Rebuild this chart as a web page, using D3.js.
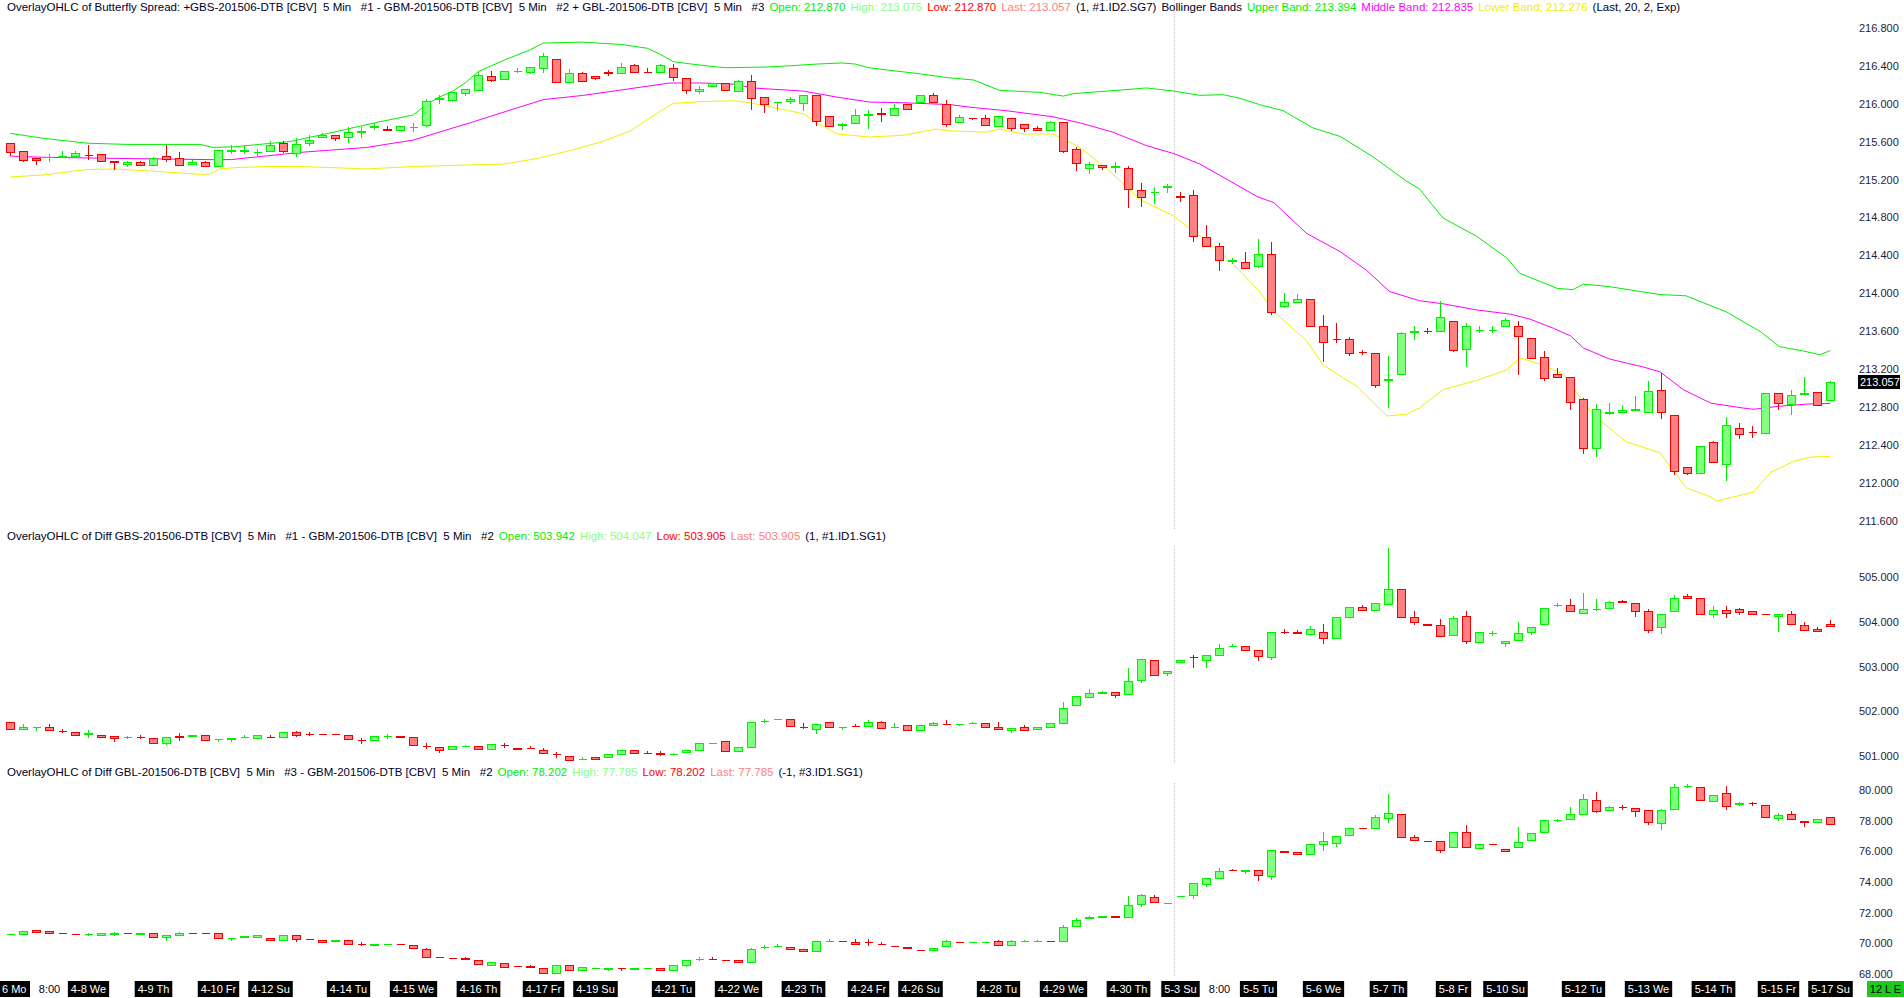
<!DOCTYPE html>
<html><head><meta charset="utf-8">
<script src="https://cdn.jsdelivr.net/npm/d3@7"></script>
<style>
html,body{margin:0;padding:0;background:#fff;overflow:hidden}
text{font-family:"Liberation Sans",Arial,sans-serif;font-size:11px;white-space:pre}
</style>
</head><body>
<svg id="chart" width="1904" height="998"></svg>
<script>
// ---------- DATA ----------
// [open, high, low, close] per bar
const spreadOHLC = [
[215.58,215.58,215.46,215.49],[215.50,215.50,215.39,215.41],[215.43,215.43,215.36,215.41],[215.435,215.47,215.39,215.44],
[215.44,215.50,215.44,215.45],[215.45,215.50,215.45,215.48],[215.46,215.56,215.42,215.455],[215.47,215.47,215.40,215.40],
[215.40,215.40,215.31,215.38],[215.36,215.39,215.34,215.38],[215.38,215.39,215.35,215.35],[215.35,215.44,215.35,215.43],
[215.45,215.56,215.40,215.42],[215.43,215.49,215.35,215.35],[215.36,215.41,215.36,215.38],[215.38,215.39,215.34,215.34],
[215.34,215.51,215.34,215.51],[215.50,215.56,215.48,215.51],[215.50,215.56,215.48,215.51],[215.49,215.52,215.46,215.495],
[215.50,215.61,215.50,215.56],[215.59,215.61,215.49,215.50],[215.48,215.64,215.45,215.57],[215.58,215.67,215.56,215.62],
[215.65,215.69,215.65,215.67],[215.67,215.67,215.62,215.64],[215.65,215.75,215.60,215.70],[215.70,215.75,215.65,215.71],
[215.75,215.80,215.73,215.76],[215.73,215.76,215.72,215.725],[215.72,215.76,215.72,215.76],[215.75,215.80,215.71,215.755],
[215.78,216.05,215.76,216.03],[216.05,216.09,216.01,216.06],[216.04,216.12,216.03,216.12],[216.11,216.16,216.09,216.16],
[216.14,216.33,216.14,216.30],[216.29,216.35,216.24,216.25],[216.26,216.35,216.26,216.35],[216.34,216.38,216.33,216.345],
[216.33,216.39,216.32,216.386],[216.38,216.53,216.33,216.50],[216.47,216.47,216.23,216.23],[216.23,216.37,216.23,216.32],
[216.32,216.33,216.24,216.24],[216.29,216.29,216.26,216.27],[216.33,216.36,216.30,216.325],[216.32,216.43,216.32,216.39],
[216.41,216.42,216.33,216.33],[216.335,216.38,216.33,216.33],[216.33,216.42,216.33,216.41],[216.38,216.42,216.25,216.28],
[216.27,216.27,216.11,216.14],[216.13,216.185,216.11,216.16],[216.19,216.22,216.19,216.22],[216.22,216.22,216.14,216.14],
[216.13,216.25,216.13,216.24],[216.24,216.30,215.94,216.06],[216.075,216.075,215.91,216.0],[216.02,216.02,215.93,216.02],
[216.025,216.075,216.01,216.05],[216.01,216.095,215.93,216.095],[216.095,216.095,215.78,215.82],[215.875,215.875,215.76,215.76],
[215.77,215.80,215.73,215.79],[215.80,215.94,215.80,215.88],[215.885,215.93,215.745,215.89],[215.90,215.95,215.82,215.895],
[215.88,216.0,215.88,215.95],[216.0,216.0,215.94,215.94],[216.02,216.095,216.02,216.095],[216.09,216.11,216.02,216.02],
[216.0,216.04,215.76,215.79],[215.81,215.88,215.81,215.86],[215.85,215.85,215.84,215.845],[215.85,215.88,215.78,215.78],
[215.765,215.875,215.765,215.875],[215.85,215.85,215.72,215.74],[215.79,215.79,215.71,215.745],[215.745,215.76,215.726,215.726],
[215.72,215.816,215.72,215.81],[215.81,215.81,215.49,215.50],[215.525,215.545,215.30,215.376],[215.324,215.38,215.266,215.363],
[215.357,215.357,215.31,215.33],[215.335,215.38,215.28,215.34],[215.324,215.344,214.91,215.098],[215.085,215.16,214.917,215.014],
[215.065,215.124,214.956,215.07],[215.12,215.15,215.065,215.126],[215.024,215.066,214.975,215.02],[215.04,215.091,214.554,214.606],
[214.593,214.722,214.502,214.502],[214.502,214.528,214.244,214.354],[214.34,214.37,214.315,214.345],[214.334,214.43,214.27,214.27],
[214.282,214.574,214.28,214.412],[214.412,214.541,213.778,213.803],[213.862,213.998,213.849,213.907],[213.907,213.99,213.907,213.94],
[213.94,213.94,213.655,213.655],[213.655,213.771,213.286,213.486],[213.52,213.68,213.48,213.515],[213.512,213.538,213.35,213.37],
[213.378,213.40,213.357,213.376],[213.37,213.37,213.007,213.027],[213.085,213.337,212.794,213.09],[213.143,213.59,213.143,213.583],
[213.595,213.655,213.519,213.60],[213.603,213.63,213.578,213.60],[213.596,213.92,213.596,213.752],[213.706,213.706,213.39,213.402],
[213.415,213.68,213.227,213.648],[213.612,213.648,213.59,213.616],[213.61,213.648,213.59,213.615],[213.655,213.74,213.655,213.72],
[213.655,213.706,213.15,213.551],[213.525,213.525,213.312,213.312],[213.331,213.39,213.085,213.104],[213.15,213.215,213.11,213.11],
[213.111,213.111,212.781,212.846],[212.885,212.89,212.315,212.367],[212.367,212.833,212.276,212.781],[212.74,212.84,212.72,212.745],
[212.742,212.82,212.742,212.768],[212.77,212.91,212.77,212.775],[212.742,213.072,212.742,212.962],[212.981,213.156,212.677,212.742],
[212.716,212.716,212.095,212.127],[212.16,212.16,212.09,212.10],[212.10,212.386,212.10,212.386],[212.431,212.444,212.218,212.218],
[212.192,212.697,212.03,212.613],[212.574,212.632,212.47,212.509],[212.535,212.593,212.483,212.532],[212.522,212.943,212.522,212.943],
[212.943,212.95,212.774,212.84],[212.833,212.98,212.729,212.924],[212.94,213.11,212.937,212.945],[212.956,212.956,212.82,212.82],
[212.870,213.075,212.870,213.057]
];
const gbsDiffOHLC = [
[501.767,501.77,501.60,501.603],[501.603,501.71,501.60,501.64],[501.64,501.645,501.575,501.645],[501.657,501.712,501.589,501.589],
[501.57,501.603,501.534,501.56],[501.548,501.548,501.466,501.466],[501.50,501.575,501.425,501.507],[501.466,501.466,501.425,501.425],
[501.452,501.452,501.342,501.397],[501.42,501.44,501.41,501.425],[501.43,501.466,501.41,501.425],[501.41,501.41,501.288,501.288],
[501.30,501.425,501.274,501.425],[501.44,501.507,501.36,501.435],[501.46,501.466,501.46,501.466],[501.48,501.48,501.37,501.37],
[501.38,501.384,501.33,501.384],[501.39,501.397,501.342,501.397],[501.42,501.466,501.42,501.425],[501.397,501.466,501.397,501.466],
[501.427,501.466,501.425,501.425],[501.425,501.534,501.425,501.534],[501.534,501.56,501.44,501.466],[501.495,501.548,501.466,501.49],
[501.495,501.495,501.49,501.49],[501.497,501.497,501.493,501.493],[501.48,501.48,501.384,501.384],[501.36,501.397,501.288,501.356],
[501.356,501.452,501.356,501.452],[501.45,501.493,501.41,501.455],[501.452,501.46,501.425,501.425],[501.425,501.425,501.247,501.247],
[501.22,501.288,501.178,501.219],[501.205,501.205,501.096,501.137],[501.15,501.233,501.15,501.233],[501.23,501.24,501.23,501.233],
[501.219,501.219,501.15,501.15],[501.164,501.274,501.164,501.274],[501.25,501.30,501.205,501.247],[501.192,501.192,501.164,501.164],
[501.18,501.22,501.178,501.178],[501.137,501.178,501.068,501.068],[501.04,501.096,500.986,501.038],[501.0,501.0,500.918,500.918],
[500.93,500.986,500.93,500.932],[500.986,500.986,500.932,500.932],[500.973,501.055,500.973,501.04],[501.04,501.137,501.04,501.137],
[501.137,501.137,501.068,501.068],[501.07,501.11,501.068,501.068],[501.06,501.11,501.027,501.055],[501.05,501.07,501.04,501.055],
[501.082,501.137,501.082,501.137],[501.137,501.30,501.137,501.30],[501.297,501.30,501.297,501.30],[501.33,501.33,501.123,501.123],
[501.11,501.205,501.11,501.205],[501.205,501.767,501.205,501.767],[501.79,501.836,501.753,501.795],[501.82,501.822,501.82,501.822],
[501.822,501.822,501.67,501.67],[501.66,501.74,501.62,501.657],[501.616,501.726,501.507,501.726],[501.753,501.753,501.644,501.644],
[501.65,501.657,501.603,501.657],[501.675,501.712,501.67,501.67],[501.67,501.808,501.67,501.767],[501.753,501.795,501.63,501.63],
[501.64,501.74,501.64,501.644],[501.685,501.685,501.575,501.575],[501.589,501.685,501.589,501.685],[501.685,501.767,501.685,501.74],
[501.72,501.808,501.712,501.712],[501.72,501.726,501.70,501.726],[501.735,501.753,501.735,501.74],[501.74,501.74,501.657,501.657],
[501.644,501.753,501.603,501.603],[501.575,501.63,501.534,501.63],[501.644,501.70,501.589,501.589],[501.603,501.644,501.603,501.644],
[501.644,501.74,501.644,501.74],[501.74,502.205,501.74,502.082],[502.137,502.342,502.137,502.342],[502.315,502.493,502.315,502.41],
[502.42,502.45,502.40,502.425],[502.425,502.425,502.315,502.356],[502.384,502.96,502.384,502.67],[502.70,503.178,502.644,503.178],
[503.15,503.15,502.81,502.81],[502.85,502.90,502.82,502.90],[503.11,503.15,503.11,503.15],[503.21,503.247,503.0,503.205],
[503.137,503.247,503.0,503.247],[503.247,503.507,503.247,503.41],[503.45,503.507,503.45,503.452],[503.466,503.466,503.37,503.37],
[503.37,503.37,503.137,503.233],[503.205,503.767,503.178,503.767],[503.77,503.836,503.74,503.767],[503.767,503.822,503.74,503.74],
[503.726,503.904,503.726,503.836],[503.767,503.945,503.534,503.63],[503.63,504.11,503.63,504.11],[504.096,504.329,504.096,504.329],
[504.33,504.37,504.274,504.274],[504.274,504.41,504.26,504.41],[504.397,505.658,504.397,504.726],[504.726,504.726,504.096,504.096],
[504.096,504.233,503.945,503.986],[503.96,503.96,503.918,503.918],[503.918,504.055,503.685,503.685],[503.712,504.137,503.712,504.082],
[504.137,504.247,503.52,503.575],[503.548,503.78,503.548,503.78],[503.75,503.795,503.712,503.753],[503.52,503.575,503.466,503.575],
[503.603,504.0,503.603,503.753],[503.78,503.89,503.726,503.89],[503.945,504.315,503.945,504.315],[504.365,504.425,504.342,504.37],
[504.37,504.507,504.233,504.233],[504.192,504.644,504.192,504.288],[504.285,504.507,504.26,504.288],[504.3,504.47,504.3,504.452],
[504.455,504.493,504.44,504.452],[504.425,504.425,504.137,504.233],[504.233,504.288,503.78,503.822],[503.877,504.178,503.74,504.178],
[504.233,504.603,504.233,504.534],[504.575,504.616,504.52,504.52],[504.52,504.52,504.164,504.164],[504.178,504.342,504.096,504.26],
[504.274,504.342,504.096,504.192],[504.288,504.315,504.164,504.22],[504.233,504.233,504.178,504.178],[504.167,504.17,504.164,504.164],
[504.123,504.17,503.795,504.164],[504.164,504.247,503.945,503.945],[503.932,503.986,503.822,503.822],[503.836,503.877,503.795,503.795],
[503.942,504.047,503.905,503.905]
];
const gblDiffOHLC = [
[70.58,70.60,70.58,70.60],[70.60,70.80,70.60,70.80],[70.84,70.84,70.76,70.76],[70.80,70.80,70.68,70.68],
[70.65,70.65,70.64,70.64],[70.61,70.61,70.60,70.60],[70.58,70.64,70.56,70.60],[70.52,70.64,70.52,70.64],
[70.62,70.76,70.52,70.64],[70.65,70.65,70.64,70.64],[70.63,70.64,70.63,70.64],[70.68,70.68,70.40,70.40],
[70.40,70.56,70.20,70.56],[70.56,70.76,70.56,70.68],[70.70,70.70,70.68,70.68],[70.69,70.69,70.68,70.68],
[70.68,70.68,70.36,70.36],[70.34,70.36,70.20,70.36],[70.42,70.44,70.42,70.44],[70.40,70.52,70.40,70.52],
[70.36,70.36,70.20,70.20],[70.20,70.56,70.20,70.56],[70.56,70.56,70.16,70.28],[70.30,70.30,70.28,70.28],
[70.20,70.20,70.08,70.08],[70.12,70.24,70.12,70.24],[70.20,70.20,69.96,69.96],[69.97,70.08,69.88,69.96],
[69.90,69.92,69.90,69.92],[69.94,69.96,69.94,69.96],[69.93,69.93,69.92,69.92],[69.88,69.88,69.68,69.68],
[69.64,69.72,69.12,69.12],[69.10,69.10,69.08,69.08],[69.05,69.05,69.04,69.04],[69.02,69.12,69.0,69.0],
[68.92,68.92,68.64,68.64],[68.56,68.76,68.56,68.76],[68.72,68.72,68.48,68.48],[68.54,68.54,68.52,68.52],
[68.49,68.56,68.48,68.48],[68.40,68.40,68.08,68.08],[68.08,68.56,68.08,68.56],[68.56,68.56,68.28,68.28],
[68.28,68.48,68.28,68.48],[68.39,68.40,68.39,68.40],[68.35,68.36,68.28,68.36],[68.37,68.37,68.28,68.36],
[68.35,68.36,68.35,68.36],[68.39,68.40,68.39,68.40],[68.40,68.40,68.24,68.24],[68.24,68.56,68.24,68.56],
[68.60,68.88,68.52,68.88],[68.955,69.08,68.88,68.96],[68.97,69.08,68.96,68.96],[68.89,68.89,68.88,68.88],
[68.88,68.88,68.76,68.76],[68.76,69.72,68.76,69.64],[69.74,69.88,69.68,69.76],[69.82,69.92,69.82,69.84],
[69.76,69.76,69.60,69.60],[69.64,69.64,69.48,69.48],[69.48,70.16,69.48,70.16],[70.14,70.28,70.14,70.16],
[70.17,70.17,70.16,70.16],[70.08,70.28,69.92,69.92],[70.09,70.28,69.88,70.08],[69.97,70.08,69.96,69.96],
[69.81,69.81,69.80,69.80],[69.73,69.73,69.72,69.72],[69.57,69.57,69.56,69.56],[69.56,69.72,69.56,69.72],
[69.80,70.20,69.80,70.12],[70.09,70.09,70.08,70.08],[70.07,70.08,70.07,70.08],[70.07,70.08,70.07,70.08],
[70.12,70.20,69.88,69.88],[69.88,70.20,69.88,70.12],[70.14,70.24,70.14,70.16],[70.15,70.24,70.15,70.16],
[70.17,70.17,70.16,70.16],[70.16,71.20,70.16,71.04],[71.12,71.64,71.12,71.52],[71.66,71.76,71.66,71.68],
[71.68,71.80,71.68,71.76],[71.76,71.76,71.68,71.68],[71.68,73.08,71.68,72.48],[72.56,73.20,72.44,73.12],
[73.04,73.12,72.68,72.68],[72.62,72.64,72.62,72.64],[73.06,73.08,73.06,73.08],[73.12,73.92,72.96,73.92],
[73.88,74.24,73.72,74.24],[74.24,74.88,74.24,74.68],[74.77,74.84,74.76,74.76],[74.74,74.76,74.60,74.76],
[74.76,74.76,74.12,74.44],[74.36,76.08,74.16,76.08],[76.00,76.00,75.92,75.92],[75.96,75.96,75.80,75.80],
[75.80,76.48,75.80,76.48],[76.44,77.28,76.08,76.64],[76.56,77.00,76.36,77.00],[77.04,77.52,77.04,77.52],
[77.53,77.53,77.52,77.52],[77.52,78.36,77.52,78.24],[78.20,79.76,77.88,78.52],[78.40,78.40,76.92,76.92],
[76.96,77.08,76.76,76.76],[76.70,76.70,76.68,76.68],[76.68,76.68,75.92,76.08],[76.28,77.24,76.28,77.24],
[77.24,77.72,76.28,76.28],[76.24,76.48,76.24,76.48],[76.49,76.49,76.48,76.48],[76.16,76.16,76.04,76.04],
[76.28,77.60,76.28,76.60],[76.72,77.20,76.72,77.20],[77.28,78.04,77.28,78.04],[78.03,78.12,77.96,78.04],
[78.08,78.88,78.08,78.44],[78.40,79.72,78.40,79.40],[79.36,79.88,78.56,78.64],[78.72,78.92,78.68,78.88],
[78.89,79.00,78.76,78.88],[78.84,78.84,78.28,78.60],[78.68,78.68,77.76,77.88],[77.84,78.76,77.44,78.68],
[78.76,80.36,78.76,80.20],[80.26,80.36,80.20,80.28],[80.20,80.20,79.32,79.32],[79.28,79.68,79.28,79.68],
[79.80,80.24,78.76,78.92],[79.10,79.24,79.04,79.12],[79.13,79.20,79.04,79.12],[79.00,79.00,78.24,78.24],
[78.16,78.48,78.04,78.36],[78.44,78.64,78.08,78.08],[78.00,78.00,77.64,77.88],[77.92,78.12,77.92,78.12],
[78.202,78.202,77.785,77.785]
];
// Bollinger band points: [bar index, value]
const upperBand = [[0,215.687],[2.5,215.635],[5.9,215.583],[9,215.57],[14.6,215.57],[15.6,215.538],[17.2,215.545],[21.5,215.60],
[24.9,215.70],[28,215.797],[31,215.881],[32,215.99],[33,216.07],[34,216.13],[35,216.22],[36,216.34],[38,216.46],[40,216.57],[41,216.64],
[44,216.65],[47,216.625],[49,216.585],[50,216.52],[51,216.444],[52,216.425],[54,216.393],[55,216.38],[58,216.386],[60,216.40],
[62,216.418],[64,216.43],[65,216.418],[66,216.38],[68,216.347],[70,216.315],[72,216.276],[74.1,216.25],[76.1,216.14],[79.2,216.12],
[81,216.08],[81.8,216.107],[85.6,216.146],[87.4,216.166],[89.5,216.133],[91.5,216.088],[93.3,216.095],[94.6,216.056],[96.1,215.99],
[97.9,215.926],[100.2,215.745],[102.3,215.654],[104.8,215.441],[107.4,215.182],[108.4,215.1],[110.2,214.794],[112.8,214.60],
[115.1,214.373],[116.1,214.21],[119,214.05],[120.2,214.037],[121,214.095],[123,214.069],[126.9,213.985],[128.9,213.972],[130.2,213.90],
[132,213.803],[134.6,213.596],[136.1,213.435],[137.9,213.39],[139.2,213.35],[140,213.394]];
const middleBand = [[0,215.447],[2.5,215.434],[9.5,215.42],[15.6,215.409],[17,215.41],[22.3,215.486],[27.4,215.538],[31,215.616],
[35.4,215.80],[41,216.043],[44.1,216.088],[50.7,216.218],[53.3,216.218],[55.8,216.205],[57.1,216.166],[61,216.133],[63.6,216.069],
[66.1,216.017],[68.7,216.01],[72.3,215.99],[74.1,215.959],[76.6,215.926],[80.2,215.862],[82.3,215.797],[84.8,215.70],[87.4,215.557],
[89.5,215.473],[91.5,215.363],[93.6,215.201],[95.9,215.02],[97.2,214.955],[99.7,214.632],[102.3,214.438],[104.3,214.244],[106.1,214.017],
[108.4,213.92],[110.2,213.888],[112.8,213.823],[115.4,213.778],[116.9,213.726],[118.7,213.629],[120,213.551],[121,213.422],[123,213.305],
[125.6,213.221],[126.9,213.169],[128.7,212.981],[130.8,212.839],[133.3,212.787],[134.1,212.774],[136.1,212.807],[138.7,212.833],[140,212.835]];
const lowerBand = [[0,215.227],[2.5,215.247],[5.9,215.305],[8,215.311],[12,215.279],[14.6,215.253],[15.4,215.26],[16.1,215.311],
[17.2,215.324],[19.7,215.337],[22.3,215.337],[24.9,215.324],[27.4,215.311],[31,215.337],[36.1,215.357],[38,215.363],[40.5,215.421],
[43.1,215.506],[45.6,215.603],[47.7,215.713],[49.7,215.894],[51,216.004],[53.3,216.023],[55.8,216.03],[57.1,216.004],[61,215.894],
[62.1,215.797],[63.6,215.68],[66.1,215.648],[68.7,215.667],[71.2,215.732],[72.3,215.713],[75.1,215.70],[76.1,215.732],[77.9,215.68],
[80.2,215.68],[82.3,215.538],[84.8,215.26],[86.9,214.988],[89.5,214.813],[91.5,214.60],[93.6,214.373],[96.1,214.017],[97.2,213.803],
[99.7,213.499],[101,213.24],[103.6,213.014],[105.9,212.703],[107.4,212.723],[108.4,212.787],[110.2,212.981],[112.8,213.079],
[115.1,213.189],[116.1,213.318],[117.9,213.24],[119.5,213.143],[120.5,212.949],[121,212.852],[122,212.69],[124.3,212.431],
[126.9,212.315],[128.9,211.946],[130.8,211.849],[131.3,211.804],[132,211.83],[134.1,211.90],[135.4,212.108],[137.2,212.224],
[138.5,212.27],[140,212.276]];

const spreadTicks = [211.6,212.0,212.4,212.8,213.2,213.6,214.0,214.4,214.8,215.2,215.6,216.0,216.4,216.8];
const gbsTicks = [501,502,503,504,505];
const gblTicks = [68,70,72,74,76,78,80];
const firstDayLabel = "6 Mo";
const dateLabels = [[6,"4-8 We"],[11,"4-9 Th"],[16,"4-10 Fr"],[20,"4-12 Su"],[26,"4-14 Tu"],[31,"4-15 We"],
[36,"4-16 Th"],[41,"4-17 Fr"],[45,"4-19 Su"],[51,"4-21 Tu"],[56,"4-22 We"],[61,"4-23 Th"],[66,"4-24 Fr"],[70,"4-26 Su"],
[76,"4-28 Tu"],[81,"4-29 We"],[86,"4-30 Th"],[90,"5-3 Su"],[96,"5-5 Tu"],[101,"5-6 We"],[106,"5-7 Th"],[111,"5-8 Fr"],
[115,"5-10 Su"],[121,"5-12 Tu"],[126,"5-13 We"],[131,"5-14 Th"],[136,"5-15 Fr"],[140,"5-17 Su"]];
const timeLabels = [[3,"8:00"],[93,"8:00"]];
const sessionBreak = 89.5;
const lastSpread = 213.057;

const topHeader = [
 ["OverlayOHLC of Butterfly Spread: +GBS-201506-DTB [CBV]  5 Min   #1 - GBM-201506-DTB [CBV]  5 Min   #2 + GBL-201506-DTB [CBV]  5 Min   #3","ink"],
 ["Open: 212.870","open"],["High: 213.075","high"],["Low: 212.870","low"],["Last: 213.057","last"],["(1, #1.ID2.SG7)","ink"],
 ["Bollinger Bands","ink"],["Upper Band: 213.394","upper"],["Middle Band: 212.835","middle"],["Lower Band: 212.276","lower"],["(Last, 20, 2, Exp)","ink"]];
const midHeader = [
 ["OverlayOHLC of Diff GBS-201506-DTB [CBV]  5 Min   #1 - GBM-201506-DTB [CBV]  5 Min   #2","ink"],
 ["Open: 503.942","open"],["High: 504.047","high"],["Low: 503.905","low"],["Last: 503.905","last"],["(1, #1.ID1.SG1)","ink"]];
const botHeader = [
 ["OverlayOHLC of Diff GBL-201506-DTB [CBV]  5 Min   #3 - GBM-201506-DTB [CBV]  5 Min   #2","ink"],
 ["Open: 78.202","open"],["High: 77.785","high"],["Low: 78.202","low"],["Last: 77.785","last"],["(-1, #3.ID1.SG1)","ink"]];

// ---------- LAYOUT / STYLE ----------
const colors = {ink:"#000028", open:"#00ee00", high:"#88ff88", low:"#ff0000", last:"#ff8080",
  upper:"#00ee00", middle:"#ff00ff", lower:"#f0f000"};
const upStroke="#00f000", upFill="#80ff80", dnStroke="#f00000", dnFill="#ff8080";

const svg = d3.select("#chart");
const x = d3.scaleLinear().domain([0,140]).range([10.3,1830.3]);
const px = i => Math.round(x(i));

const panels = [
  {data:spreadOHLC, y:d3.scaleLinear().domain([211.6,216.8]).range([520.5,27.9]), ticks:spreadTicks, top:0, bottom:529,
   header:topHeader, hy:11},
  {data:gbsDiffOHLC, y:d3.scaleLinear().domain([501,505]).range([756.1,577.0]), ticks:gbsTicks, top:546, bottom:764,
   header:midHeader, hy:539.5},
  {data:gblDiffOHLC, y:d3.scaleLinear().domain([68,80]).range([973.9,789.9]), ticks:gblTicks, top:783, bottom:977,
   header:botHeader, hy:776}
];

// session break line
panels.forEach(p=>{
  svg.append("line").attr("x1",px(sessionBreak)+0.5).attr("x2",px(sessionBreak)+0.5)
    .attr("y1",p.top).attr("y2",p.bottom).attr("stroke","#c4c4c4").attr("stroke-dasharray","1,1");
});

// bands (top panel)
const yTop = panels[0].y;
const bandLine = d3.line().x(d=>x(d[0])).y(d=>yTop(d[1]));
[[upperBand,colors.upper],[middleBand,colors.middle],[lowerBand,colors.lower]].forEach(([b,c])=>{
  svg.append("path").datum(b).attr("d",bandLine).attr("fill","none").attr("stroke",c).attr("stroke-width",1);
});

// candles
panels.forEach(p=>{
  const y = p.y;
  const g = svg.append("g").attr("shape-rendering","crispEdges");
  const c = g.selectAll("g").data(p.data).join("g");
  const up = d => d[3] >= d[0];
  c.append("line")
    .attr("x1",(d,i)=>px(i)+0.5).attr("x2",(d,i)=>px(i)+0.5)
    .attr("y1",d=>Math.round(y(d[1]))).attr("y2",d=>Math.round(y(d[2]))+1)
    .attr("stroke",d=>up(d)?upStroke:dnStroke);
  c.append("path")
    .attr("d",(d,i)=>{
      const cx=px(i), t=Math.round(y(Math.max(d[0],d[3])))+0.5, b=Math.round(y(Math.min(d[0],d[3])))+0.5;
      return `M${cx-4+0.5},${t}H${cx+4+0.5}V${b}H${cx-4+0.5}Z`;
    })
    .attr("fill",d=>up(d)?upFill:dnFill).attr("stroke",d=>up(d)?upStroke:dnStroke);
});

// right axes
panels.forEach(p=>{
  const ax = svg.append("g").attr("transform","translate(1859,0)")
    .call(d3.axisRight(p.y).tickValues(p.ticks).tickSize(0).tickPadding(0).tickFormat(d3.format(".3f")));
  ax.select(".domain").remove();
  ax.selectAll("text").attr("fill","#1e1e3c").style("font-family","\"Liberation Sans\",Arial,sans-serif").style("font-size","11px");
});

// last price marker
svg.append("rect").attr("x",1858).attr("y",Math.round(yTop(lastSpread))-7).attr("width",42).attr("height",14).attr("fill","#000");
svg.append("text").attr("x",1860).attr("y",yTop(lastSpread)).attr("dy","0.35em").attr("fill","#fff").text(lastSpread.toFixed(3));

// headers (segments flow left to right)
panels.forEach(p=>{
  let hx = 7;
  p.header.forEach(h=>{
    const t = svg.append("text").attr("x",hx).attr("y",p.hy).attr("fill",colors[h[1]])
      .style("font-size","11.5px").text(h[0]);
    hx += t.node().getComputedTextLength() + 5;
  });
});

// x axis band
svg.append("rect").attr("x",0).attr("y",978).attr("width",1904).attr("height",20).attr("fill","#fff");
const xl = svg.append("g");
xl.append("rect").attr("x",0).attr("y",981).attr("width",30).attr("height",16).attr("fill","#000");
xl.append("text").attr("x",2).attr("y",993).attr("fill","#fff").text(firstDayLabel);
dateLabels.forEach(([i,t])=>{
  const gg = xl.append("g");
  const tx = gg.append("text").attr("x",px(i)+0.5).attr("y",993).attr("text-anchor","middle").attr("fill","#fff").text(t);
  const w = tx.node().getComputedTextLength()+6;
  gg.insert("rect","text").attr("x",px(i)+0.5-w/2).attr("y",981).attr("width",w).attr("height",16).attr("fill","#000");
});
timeLabels.forEach(([i,t])=>{
  xl.append("text").attr("x",px(i)+0.5).attr("y",993).attr("text-anchor","middle").attr("fill","#000028").text(t);
});
svg.append("rect").attr("x",1867).attr("y",981).attr("width",37).attr("height",16).attr("fill","#1ec81e");
svg.append("text").attr("x",1885.5).attr("y",993).attr("text-anchor","middle").attr("fill","#000").text("12 L E");
</script>
</body></html>
